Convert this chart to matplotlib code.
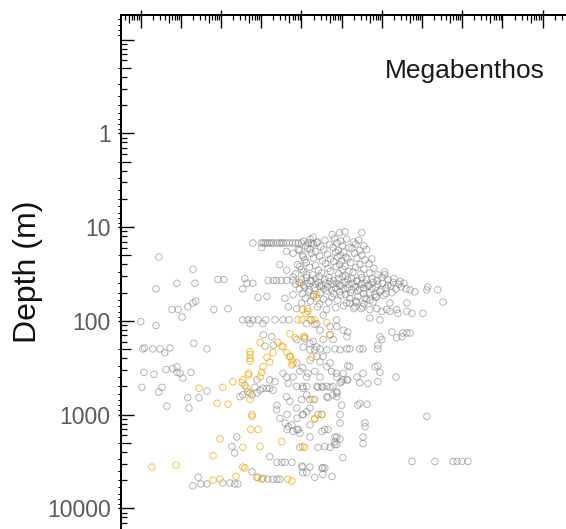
import numpy as np
import matplotlib
matplotlib.use('Agg')
import matplotlib.pyplot as plt
from matplotlib.ticker import FixedLocator, LogLocator, FuncFormatter, NullFormatter

plt.rcParams['font.family'] = ['Liberation Sans', 'DejaVu Sans']

# values: log10(body size, arbitrary units) and log10(depth in m)
gray_left = [
    (-3.55, 1.32), (-2.70, 1.45), (-3.10, 1.60), (-2.65, 1.60), (-3.62, 1.66), (-2.08, 1.56),
    (-1.93, 1.56), (-1.41, 1.55), (-1.36, 1.60), (-1.21, 1.60), (-1.46, 1.66), (-1.08, 1.75),
    (-0.86, 1.74), (-3.22, 1.88), (-3.07, 1.88), (-2.83, 1.85), (-2.70, 1.81), (-2.63, 1.79),
    (-2.97, 1.96), (-2.18, 1.88), (-1.83, 1.87), (-4.00, 2.01), (-3.62, 2.05),
    (-1.46, 1.99), (-1.33, 1.99), (-1.21, 1.99), (-1.08, 1.99), (-0.89, 1.99), (-0.66, 1.99),
    (-0.46, 1.99), (-0.31, 1.99), (-1.28, 2.03), (-0.96, 2.03),
    (-3.95, 2.30), (-3.90, 2.29), (-3.70, 2.30), (-3.52, 2.30), (-3.27, 2.29), (-3.40, 2.34),
    (-2.68, 2.24), (-2.35, 2.30),
    (-3.92, 2.55), (-3.67, 2.57), (-3.37, 2.52), (-3.20, 2.51), (-3.10, 2.49), (-3.10, 2.55),
    (-3.02, 2.56), (-2.95, 2.61), (-2.75, 2.55), (-3.97, 2.71), (-3.55, 2.76), (-3.47, 2.71),
    (-2.83, 2.82), (-2.80, 2.93), (-3.35, 2.91), (-2.55, 2.82), (-2.35, 2.75),
]

gray_bottom = [
    (-2.70, 3.76), (-2.50, 3.74), (-2.35, 3.74), (-2.57, 3.67), (-1.96, 3.73), (-1.78, 3.73),
    (-1.66, 3.74), (-1.58, 3.74), (-1.23, 3.61), (-1.11, 3.67), (-0.96, 3.68), (-0.84, 3.69),
    (-0.71, 3.69), (-0.61, 3.69), (-0.54, 3.69), (-1.61, 3.24), (-1.73, 3.34), (-1.66, 3.41),
    (-0.79, 3.45), (-0.61, 3.51), (-0.49, 3.51), (-0.41, 3.51), (-0.24, 3.51), (0.01, 3.55),
    (0.13, 3.62), (0.33, 3.67), (0.53, 3.57), (0.76, 3.66), (0.03, 3.56), (0.21, 3.56),
    (0.51, 3.57), (0.58, 3.57), (0.03, 3.62), (0.53, 3.64), (1.03, 3.46),
]

gray_mid = [
    (-1.03, 2.74), (-0.96, 2.72), (-0.86, 2.72), (-0.79, 2.72), (-0.71, 2.74), (-1.11, 2.77),
    (-1.23, 2.79), (-1.53, 2.81), (-1.46, 2.79), (-1.33, 2.76), (-1.16, 2.71), (-1.41, 2.69),
    (-1.11, 2.63), (-0.79, 2.63), (-0.66, 2.65), (-0.61, 2.90), (-0.54, 3.04), (-0.36, 3.00),
    (-0.24, 3.11), (-0.11, 3.04), (0.03, 3.00), (0.13, 2.97), (-0.36, 3.16), (-0.11, 3.16),
    (-0.04, 3.20), (0.21, 3.24), (-0.04, 3.35), (0.58, 3.34), (0.71, 3.35), (0.88, 3.32),
    (0.88, 3.24), (0.21, 2.84), (0.33, 2.84), (0.63, 2.81), (0.66, 2.82), (0.88, 2.77),
    (0.96, 2.66), (1.03, 2.63), (0.71, 2.71), (0.53, 2.71), (0.41, 2.71),
    (0.21, 2.31), (0.33, 2.31), (0.46, 2.30), (0.63, 2.31), (0.83, 2.30), (0.96, 2.31), (1.13, 2.30),
    (-0.29, 2.38), (-0.12, 2.45), (-0.04, 2.54), (0.03, 2.50), (0.16, 2.56), (0.38, 2.38),
    (0.54, 2.38), (0.71, 2.45), (0.87, 2.56), (1.04, 2.56), (1.15, 2.63),
    (0.03, 2.70), (0.13, 2.70), (0.38, 2.70), (0.51, 2.70), (0.63, 2.70), (0.78, 2.70),
    (0.78, 2.79), (0.88, 2.81), (0.04, 3.00), (0.41, 3.00), (0.50, 3.00),
    (-0.95, 2.15), (-0.74, 2.17), (-0.70, 2.26), (-0.91, 2.27), (-0.12, 2.20), (0.04, 2.28),
    (0.21, 2.24), (0.38, 2.28),
    (-0.62, 2.95), (-0.41, 3.09), (-0.33, 3.13), (-0.21, 3.18), (-0.08, 3.16), (0.21, 3.11),
    (-0.46, 2.56), (-0.37, 2.60), (-0.33, 2.67), (-0.21, 2.60), (-0.12, 2.70), (0.04, 2.72),
    (0.13, 2.79), (0.00, 2.84), (0.21, 2.93), (-0.37, 2.81), (-0.29, 2.86), (-0.12, 2.93),
    (0.21, 1.99), (0.38, 2.03), (0.54, 1.94), (0.87, 1.99), (1.04, 2.10), (0.71, 2.06),
    (0.13, 2.03), (0.33, 2.04), (0.46, 2.10), (0.71, 2.15), (0.88, 2.06), (0.08, 2.19),
    (0.29, 2.22), (0.54, 2.20), (0.79, 2.20),
    (0.21, 2.42), (0.46, 2.44), (0.63, 2.49), (0.33, 2.54), (0.75, 2.54), (0.88, 2.60),
    (0.13, 2.60), (0.46, 2.60),
]

gray_right = [
    (2.35, 2.60), (1.00, 2.65), (1.13, 2.63), (1.38, 2.60), (1.45, 2.66), (1.65, 2.67),
    (1.90, 2.65), (1.53, 2.56), (1.95, 2.55), (0.88, 2.76), (1.00, 2.90), (1.40, 2.90),
    (1.45, 2.88), (1.63, 2.89), (0.96, 3.00), (0.96, 3.09), (1.58, 3.09), (1.58, 3.13),
    (3.12, 3.02), (0.58, 3.16), (0.66, 3.16), (0.51, 3.18), (0.83, 3.24), (0.83, 3.29),
    (0.83, 3.32), (0.96, 3.26), (1.53, 3.24), (1.53, 3.31), (0.41, 3.35),
    (2.75, 3.50), (3.32, 3.50), (3.77, 3.50), (3.87, 3.50), (3.99, 3.50), (4.14, 3.50),
    (1.70, 1.97), (2.00, 1.90), (2.12, 1.88), (2.20, 1.90), (2.37, 1.88), (2.40, 1.92),
    (2.62, 1.90), (2.52, 2.13), (2.62, 2.13), (2.70, 2.13), (2.25, 2.12), (2.37, 2.18),
    (2.50, 2.17), (1.15, 2.12), (1.13, 2.17), (1.95, 2.17), (2.00, 2.20), (1.90, 2.26),
    (1.20, 2.30), (1.45, 2.30), (1.53, 2.30), (1.90, 2.30),
    (1.15, 2.48), (1.20, 2.49), (1.83, 2.49), (1.90, 2.48),
    (2.07, 1.51), (2.45, 1.58), (2.70, 1.67), (2.82, 1.69), (3.12, 1.67), (3.14, 1.64),
    (3.39, 1.67), (3.52, 1.80), (3.02, 1.92), (2.75, 1.92), (2.62, 1.81),
    (1.20, 1.81), (1.37, 1.80), (1.58, 1.76), (1.70, 1.78), (1.87, 1.74), (1.33, 1.85),
    (1.49, 1.87), (1.87, 1.87), (1.95, 1.99),
]

gray_top = [
    (-0.99, 1.22), (0.29, 1.11), (0.76, 1.08), (0.95, 1.06), (1.08, 1.05), (1.50, 1.06),
    (-0.37, 1.26), (-0.21, 1.28), (-0.08, 1.24), (0.04, 1.32), (0.21, 1.24), (-0.54, 1.40),
    (-0.37, 1.46), (-0.04, 1.42), (0.13, 1.51), (-0.21, 1.53),
    (-0.41, 1.76), (-0.21, 1.72), (-0.33, 1.85), (-0.12, 1.87),
]

# the two straight rows of records (about 15 m and 37 m)
row_15m = [-1.21, -1.0, -0.95, -0.9, -0.85, -0.8, -0.75, -0.7, -0.62, -0.55, -0.5, -0.45,
           -0.38, -0.3, -0.22, -0.15, -0.08, 0.0, 0.17, 0.25, 0.38]
row_37m = [-0.83, -0.70, -0.62, -0.50, -0.37, -0.21]

# dense shallow cluster, 12 - 30 m
gray_cluster = [
    (0.05, 1.15), (0.22, 1.13), (0.40, 1.16), (0.58, 1.14), (0.82, 1.12), (0.98, 1.15),
    (1.12, 1.13), (1.30, 1.16), (1.42, 1.14),
    (0.10, 1.20), (0.30, 1.18), (0.48, 1.21), (0.70, 1.19), (0.88, 1.17), (1.02, 1.20),
    (1.18, 1.22), (1.35, 1.18), (1.55, 1.20),
    (-0.05, 1.25), (0.15, 1.23), (0.35, 1.26), (0.55, 1.24), (0.78, 1.22), (0.92, 1.25),
    (1.05, 1.27), (1.25, 1.23), (1.45, 1.25), (1.62, 1.24),
    (0.02, 1.30), (0.25, 1.28), (0.45, 1.31), (0.65, 1.29), (0.85, 1.27), (0.97, 1.30),
    (1.10, 1.32), (1.32, 1.28), (1.50, 1.30),
    (0.08, 1.35), (0.30, 1.33), (0.52, 1.36), (0.72, 1.34), (0.90, 1.32), (1.00, 1.36),
    (1.15, 1.34), (1.38, 1.33), (1.58, 1.35), (1.75, 1.34),
    (-0.10, 1.40), (0.12, 1.38), (0.35, 1.41), (0.60, 1.39), (0.80, 1.37), (0.95, 1.40),
    (1.08, 1.42), (1.22, 1.38), (1.45, 1.40), (1.68, 1.39),
    (0.00, 1.45), (0.20, 1.43), (0.42, 1.46), (0.66, 1.44), (0.86, 1.42), (1.02, 1.45),
    (1.18, 1.47), (1.35, 1.43), (1.55, 1.45), (1.80, 1.44),
    (-0.15, 1.50), (0.05, 1.48), (0.28, 1.51), (0.50, 1.49), (0.72, 1.47), (0.92, 1.50),
    (1.10, 1.52), (1.28, 1.48), (1.48, 1.50), (1.70, 1.49), (1.90, 1.51), (2.07, 1.48),
]

# dense band, 35 - 75 m
gray_band = [
    (0.00, 1.56), (0.12, 1.54), (0.22, 1.57), (0.35, 1.55), (0.45, 1.53), (0.58, 1.56),
    (0.68, 1.54), (0.80, 1.57), (0.92, 1.55), (1.02, 1.53), (1.15, 1.56), (1.25, 1.55),
    (1.38, 1.57), (1.50, 1.54), (1.62, 1.56), (1.75, 1.55), (1.88, 1.57), (2.00, 1.54),
    (2.15, 1.56), (2.30, 1.55),
    (-0.15, 1.61), (-0.05, 1.59), (0.05, 1.62), (0.15, 1.60), (0.25, 1.58), (0.35, 1.61),
    (0.42, 1.59), (0.50, 1.62), (0.60, 1.60), (0.70, 1.58), (0.78, 1.61), (0.88, 1.60),
    (0.98, 1.62), (1.08, 1.59), (1.18, 1.61), (1.28, 1.60), (1.38, 1.58), (1.48, 1.61),
    (1.58, 1.60), (1.68, 1.62), (1.78, 1.59), (1.90, 1.61), (2.02, 1.60), (2.15, 1.62),
    (2.28, 1.59), (2.42, 1.61), (2.55, 1.60),
    (-0.05, 1.66), (0.08, 1.64), (0.20, 1.67), (0.32, 1.65), (0.45, 1.63), (0.55, 1.66),
    (0.65, 1.64), (0.75, 1.67), (0.85, 1.65), (0.95, 1.63), (1.05, 1.66), (1.15, 1.65),
    (1.25, 1.67), (1.35, 1.64), (1.45, 1.66), (1.55, 1.65), (1.65, 1.63), (1.75, 1.66),
    (1.85, 1.64), (1.98, 1.67), (2.10, 1.65), (2.22, 1.63), (2.35, 1.66), (2.48, 1.64),
    (2.60, 1.66),
    (0.02, 1.71), (0.18, 1.69), (0.30, 1.72), (0.48, 1.70), (0.62, 1.68), (0.80, 1.71),
    (0.95, 1.69), (1.10, 1.72), (1.22, 1.70), (1.40, 1.68), (1.55, 1.71), (1.70, 1.70),
    (1.82, 1.72), (1.95, 1.69), (2.10, 1.71), (2.25, 1.70),
    (0.10, 1.76), (0.30, 1.74), (0.55, 1.77), (0.75, 1.75), (0.98, 1.73), (1.20, 1.76),
    (1.40, 1.74), (1.62, 1.77), (1.85, 1.75), (2.05, 1.73),
    (0.00, 1.81), (0.22, 1.79), (0.45, 1.82), (0.68, 1.80), (0.90, 1.78), (1.12, 1.81),
    (1.35, 1.79), (1.55, 1.82), (1.78, 1.80), (2.20, 1.81),
    (0.15, 1.87), (0.40, 1.85), (0.62, 1.88), (0.85, 1.86), (1.05, 1.84), (1.30, 1.87),
    (1.52, 1.85), (1.70, 1.88),
]

orange_pts = [
    (-0.29, 2.14), (0.06, 2.17), (0.71, 2.15), (-1.03, 2.23), (-1.28, 2.33), (-1.28, 2.36),
    (-1.28, 2.40), (-1.28, 2.43), (-0.59, 2.23), (-0.49, 2.27), (-0.46, 2.28), (-0.86, 2.39),
    (-0.79, 2.44), (-0.71, 2.34), (-0.36, 2.34), (-0.29, 2.38), (-0.24, 2.42), (-0.21, 2.45),
    (-0.24, 2.47), (-0.96, 2.49), (-0.99, 2.55), (-1.03, 2.60), (-1.31, 2.56), (-1.33, 2.58),
    (-1.71, 2.65), (-1.96, 2.71), (-2.55, 2.72), (-1.46, 2.63), (-1.48, 2.66), (-1.36, 2.72),
    (-1.28, 2.77), (-1.28, 2.84), (-2.10, 2.88), (-1.83, 2.89), (-1.23, 3.00), (-1.23, 3.02),
    (-1.26, 3.16), (-1.08, 3.16), (-2.03, 3.26), (-1.46, 3.35), (-1.03, 3.34), (-0.49, 3.29),
    (0.03, 3.34), (0.33, 3.04), (0.51, 3.00), (-2.20, 3.44), (-3.72, 3.56), (-3.12, 3.54),
    (-1.46, 3.56), (-1.41, 3.57), (-1.63, 3.66), (-2.20, 3.70), (-2.03, 3.69), (-1.08, 3.67),
    (-0.99, 3.69), (-0.34, 3.69), (-0.24, 3.71),
    (-0.01, 1.60), (0.03, 1.88), (0.16, 1.90), (0.11, 1.92), (-0.09, 1.99), (0.01, 1.99),
    (0.26, 1.99), (0.33, 1.99), (0.63, 2.02), (-0.16, 2.18), (0.08, 2.17), (0.38, 1.72),
    (0.38, 1.76), (0.26, 2.39), (0.28, 2.84), (0.33, 3.05), (0.08, 3.35),
]

gray_pairs = (gray_left + gray_bottom + gray_mid + gray_right + gray_top
              + gray_cluster + gray_band
              + [(lx, 1.17) for lx in row_15m] + [(lx, 1.57) for lx in row_37m])

gray = np.array(gray_pairs)
orange = np.array(orange_pts)

fig = plt.figure(figsize=(5.66, 5.29), dpi=100)
ax = fig.add_axes([121 / 566, 0.0, 1 - 121 / 566, 1 - 15 / 529])

ax.scatter(10 ** gray[:, 0], 10 ** gray[:, 1], s=22, facecolors='none',
           edgecolors='#7a7a7a', linewidths=0.7, alpha=0.55)
ax.scatter(10 ** orange[:, 0], 10 ** orange[:, 1], s=22, facecolors='none',
           edgecolors='#f0a800', linewidths=0.7, alpha=0.7)

ax.set_xscale('log')
ax.set_yscale('log')
ax.set_xlim(10 ** -4.49, 10 ** 6.58)
ax.set_ylim(10 ** 4.221, 10 ** -1.262)

for side in ['right', 'bottom']:
    ax.spines[side].set_visible(False)
for side in ['left', 'top']:
    ax.spines[side].set_linewidth(1.1)

# top axis: log ticks, no labels
ax.xaxis.tick_top()
ax.xaxis.set_major_locator(LogLocator(base=10, numticks=30))
ax.xaxis.set_minor_locator(LogLocator(base=10, subs=(2, 3, 4, 6, 7, 8, 9), numticks=30))
ax.xaxis.set_major_formatter(NullFormatter())
ax.xaxis.set_minor_formatter(NullFormatter())
ax.tick_params(axis='x', which='major', direction='in', length=9.4, width=1.0)
ax.tick_params(axis='x', which='minor', direction='in', length=3.6, width=0.9)

sec_mid = ax.secondary_xaxis('top')
sec_mid.set_xticks([5 * 10.0 ** k for k in range(-5, 7)])
sec_mid.xaxis.set_major_formatter(NullFormatter())
sec_mid.tick_params(direction='in', length=5.8, width=0.9)
sec_mid.spines['top'].set_linewidth(1.1)

sec_up = ax.secondary_xaxis('top')
sec_up.set_xticks([10.0 ** k for k in range(-4, 8, 2)])
sec_up.xaxis.set_major_formatter(NullFormatter())
sec_up.tick_params(direction='out', length=3.6, width=1.0)
sec_up.spines['top'].set_linewidth(1.1)

# depth axis: decades, minor ticks crowd just below each decade
decades = [10.0 ** k for k in range(-1, 5)]
ax.yaxis.set_major_locator(FixedLocator(decades))
ax.yaxis.set_major_formatter(FuncFormatter(lambda v, p: '' if v < 1 else '%d' % round(v)))
ax.yaxis.set_minor_locator(FixedLocator(
    [10.0 ** (k + 1) / m for k in range(-2, 5) for m in (2, 3, 4, 6, 7, 8, 9)]))
ax.yaxis.set_minor_formatter(NullFormatter())
ax.tick_params(axis='y', which='major', direction='in', length=9.4, width=1.0,
               pad=7.5, labelsize=16.5, labelcolor='#555b61')
ax.tick_params(axis='y', which='minor', direction='in', length=4.3, width=0.9)

sec_y = ax.secondary_yaxis('left')
sec_y.set_yticks([2 * 10.0 ** k for k in range(-2, 5)])
sec_y.yaxis.set_major_formatter(NullFormatter())
sec_y.tick_params(direction='in', length=7.0, width=0.9)
sec_y.spines['left'].set_linewidth(1.1)

sec_y2 = ax.secondary_yaxis('left')
sec_y2.set_yticks(decades[1:])
sec_y2.yaxis.set_major_formatter(NullFormatter())
sec_y2.tick_params(direction='out', length=2.2, width=1.0)
sec_y2.spines['left'].set_linewidth(1.1)

ax.set_ylabel('Depth (m)', fontsize=23, labelpad=3.0, color='#111111')

ax.text(0.953, 0.891, 'Megabenthos', transform=ax.transAxes, ha='right', va='center',
        fontsize=19, color='#1a1a1a')

fig.savefig('out.png', dpi=100)
